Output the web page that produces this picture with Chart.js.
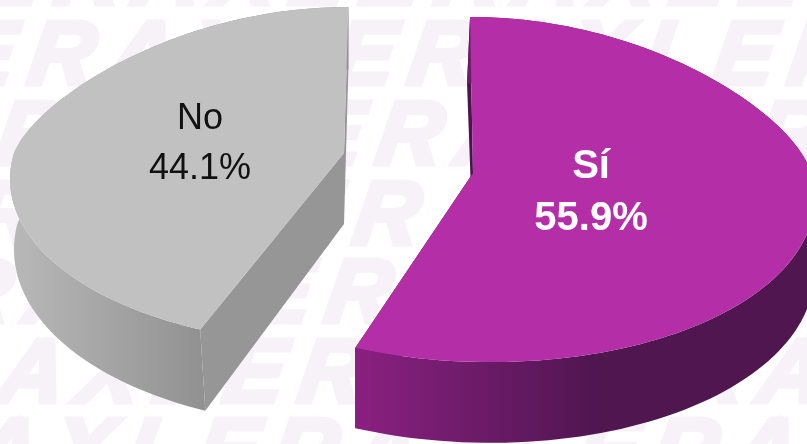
<!DOCTYPE html>
<html>
<head>
<meta charset="utf-8">
<style>
  html, body { margin: 0; padding: 0; background: #fff; overflow: hidden; }
  canvas { display: block; }
</style>
<script src="https://cdn.jsdelivr.net/npm/chart.js@4"></script>
</head>
<body>
<canvas id="myChart" width="807" height="444"></canvas>
<script>
// Data
const categories = ["Sí", "No"];
const seriesValues = [55.9, 44.1];

// Colours: top face, side walls
const topColors = ["#b32ea7", "#c1c1c1"];
const labelColors = ["#ffffff", "#111111"];
const flatWallColors = ["#4a1450", "#969696"];
const wallStops = [
  [355, "#8a2081", 600, "#4f1650"],
  [14, "#b8b8b8", 200, "#929292"]
];

// How each exploded slice is projected on the page (fake 3D)
const sliceViews = [
  { cx: 473, cy: 173, R: 338, Ry: 171, k: 0.0957, shearFar: 0.019, shearNear: 0.095, farFlat: 0.3, depth: 73, bottomScale: 1, farTilt: -3, nearTilt: 0,
    labelR: 0.35, labelDy: 9, labelFont: "bold 40px 'Liberation Sans'", labelGap: 52 },
  { cx: 344, cy: 153, R: 330, Ry: 165.6, k: 0.1346, shearFar: -0.03, shearNear: -0.04, farFlat: 0.3, depth: 71, bottomScale: 0.99, farTilt: 0, nearTilt: 4,
    labelR: 0.45, labelDy: 1, labelFont: "36px 'Liberation Sans'", labelGap: 50 }
];

// Watermark rows: y of the baseline, x where the "R" starts
const watermarkWord = "AXLER";
const watermarkRows = [[7, 432], [87, 405], [167, 373], [247, 350], [325, 322], [405, 295], [484, 268]];

function project(view, theta, r, z) {
  const cosT = Math.cos(theta);
  const s = 1 / (1 + view.k * cosT * r);
  // the far half of the top face is a bit flatter than a true ellipse
  const bent = cosT > 0 ? cosT * (1 - view.farFlat * (1 - cosT)) : cosT;
  const dy = -view.Ry * bent * r * s;
  const scale = z ? view.bottomScale : 1;
  const shear = dy < 0 ? view.shearFar : view.shearNear;
  let x = view.cx + view.R * Math.sin(theta) * r * s * scale + shear * dy;
  if (z) x += (cosT > 0 ? view.farTilt * cosT : -view.nearTilt * cosT) * r;
  return { x: x, y: view.cy + dy + z * view.depth * s };
}

function arcPoints(view, from, to, z) {
  const pts = [];
  const steps = 120;
  for (let i = 0; i <= steps; i++) {
    pts.push(project(view, from + (to - from) * i / steps, 1, z));
  }
  return pts;
}

function fillPoly(ctx, pts, fill) {
  ctx.beginPath();
  pts.forEach((p, i) => i ? ctx.lineTo(p.x, p.y) : ctx.moveTo(p.x, p.y));
  ctx.closePath();
  ctx.fillStyle = fill;
  ctx.fill();
}

function drawEdgeWall(ctx, view, theta, fill) {
  fillPoly(ctx, [
    project(view, theta, 0, 0),
    project(view, theta, 1, 0),
    project(view, theta, 1, 1),
    project(view, theta, 0, 1)
  ], fill);
}

// Watermark behind the pie
const watermarkPlugin = {
  id: "watermark",
  beforeDraw(chart) {
    const ctx = chart.ctx;
    ctx.save();
    ctx.font = "italic bold 90px 'Liberation Sans'";
    ctx.letterSpacing = "15px";
    ctx.fillStyle = "#f7f2f8";
    ctx.strokeStyle = "#f7f2f8";
    ctx.lineWidth = 5;
    ctx.lineJoin = "miter";
    ctx.textAlign = "left";
    ctx.textBaseline = "alphabetic";
    const period = ctx.measureText(watermarkWord).width;
    const lead = ctx.measureText(watermarkWord.slice(0, -1)).width;
    watermarkRows.forEach(([y, rx]) => {
      let x = rx - lead;
      while (x > -period) x -= period;
      ctx.save();
      ctx.transform(1, 0, -0.15, 1, 0.15 * y, 0);
      ctx.fillText(watermarkWord.repeat(5), x, y - 3);
      ctx.strokeText(watermarkWord.repeat(5), x, y - 3);
      ctx.restore();
    });
    ctx.restore();
  }
};

// Draws the arcs of the pie with walls, using the angles the controller worked out
const pie3dPlugin = {
  id: "pie3d",
  beforeDatasetDraw(chart, args) {
    const ctx = chart.ctx;
    const arcs = chart.getDatasetMeta(args.index).data;
    arcs.forEach((arc, i) => {
      const view = sliceViews[i];
      const from = arc.startAngle + Math.PI / 2;
      const to = arc.endAngle + Math.PI / 2;
      const stops = wallStops[i];
      const grad = ctx.createLinearGradient(stops[0], 0, stops[2], 0);
      grad.addColorStop(0, stops[1]);
      grad.addColorStop(1, stops[3]);

      drawEdgeWall(ctx, view, from, flatWallColors[i]);
      drawEdgeWall(ctx, view, to, flatWallColors[i]);
      fillPoly(ctx, arcPoints(view, from, to, 0).concat(arcPoints(view, from, to, 1).reverse()), grad);
      const centre = project(view, 0, 0, 0);
      fillPoly(ctx, [centre].concat(arcPoints(view, from, to, 0)), arc.options.backgroundColor);
    });
    return false;
  },
  afterDatasetsDraw(chart) {
    const ctx = chart.ctx;
    const arcs = chart.getDatasetMeta(0).data;
    ctx.save();
    ctx.textAlign = "center";
    ctx.textBaseline = "middle";
    arcs.forEach((arc, i) => {
      const view = sliceViews[i];
      const mid = (arc.startAngle + arc.endAngle) / 2 + Math.PI / 2;
      const p = project(view, mid, view.labelR, 0);
      const y = p.y + view.labelDy;
      ctx.font = view.labelFont;
      ctx.fillStyle = labelColors[i];
      ctx.fillText(categories[i], p.x, y - view.labelGap / 2);
      ctx.fillText(seriesValues[i].toFixed(1) + "%", p.x, y + view.labelGap / 2);
    });
    ctx.restore();
  }
};

let ctx = document.getElementById("myChart").getContext("2d");
let pieChart = new Chart(ctx, {
  type: "pie",
  data: {
    labels: categories,
    datasets: [{
      data: seriesValues,
      backgroundColor: topColors,
      borderWidth: 0
    }]
  },
  options: {
    responsive: false,
    animation: false,
    plugins: {
      legend: { display: false },
      tooltip: { enabled: false }
    }
  },
  plugins: [watermarkPlugin, pie3dPlugin]
});
</script>
</body>
</html>
